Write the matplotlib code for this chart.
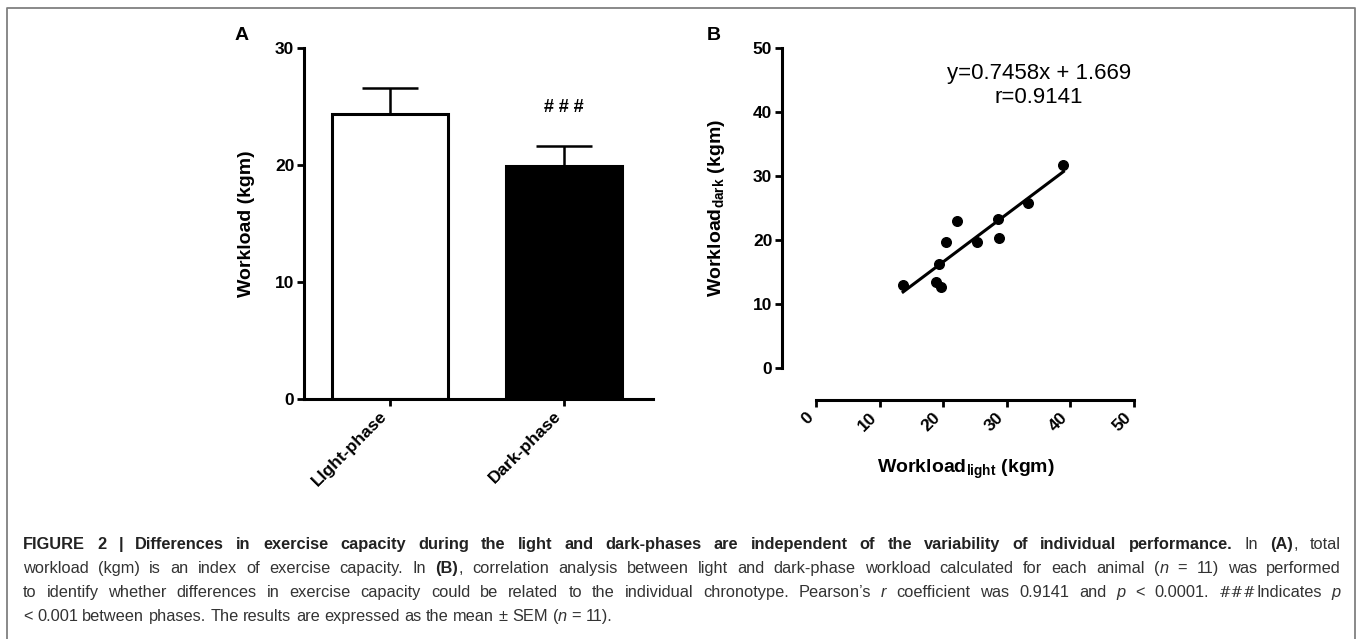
import numpy as np
import matplotlib
matplotlib.use('Agg')
import matplotlib.pyplot as plt
from matplotlib.lines import Line2D

plt.rcParams['font.family'] = ['Liberation Sans', 'DejaVu Sans']
plt.rcParams['mathtext.fontset'] = 'custom'
plt.rcParams['mathtext.rm'] = 'Liberation Sans'
plt.rcParams['mathtext.bf'] = 'Liberation Sans:bold'
plt.rcParams['mathtext.it'] = 'Liberation Sans:italic'

# Panel A: total workload per phase (mean + SEM)
phases = ['LIght-phase', 'Dark-phase']
workload_mean = [24.4, 19.9]
workload_sem = [2.2, 1.7]
bar_colors = ['white', 'black']

# Panel B: individual workloads (light vs dark)
workload_light = [13.7, 18.8, 19.6, 19.3, 20.5, 22.1, 25.3, 28.6, 28.8, 33.3, 38.9]
workload_dark = [13.0, 13.5, 12.7, 16.3, 19.7, 23.0, 19.7, 23.3, 20.3, 25.8, 31.7]
slope, intercept, r_value = 0.7458, 1.669, 0.9141
axis_ticks_b = [0, 10, 20, 30, 40, 50]

# Caption: (text, style) runs per line
caption_lines = [
    [("FIGURE 2 | Differences in exercise capacity during the light and dark-phases are "
      "independent of the variability of individual performance.", 'b'),
     (" In ", 'n'), ("(A)", 'b'), (", total", 'n')],
    [("workload (kgm) is an index of exercise capacity. In ", 'n'), ("(B)", 'b'),
     (", correlation analysis between light and dark-phase workload calculated for each animal (", 'n'),
     ("n", 'i'), (" = 11) was performed", 'n')],
    [("to identify whether differences in exercise capacity could be related to the individual "
      "chronotype. Pearson\u2019s ", 'n'), ("r", 'i'), (" coefficient was 0.9141 and ", 'n'),
     ("p", 'i'), (" < 0.0001. ", 'n'), ("###", 'h'), ("Indicates ", 'n'), ("p", 'i')],
    [("< 0.001 between phases. The results are expressed as the mean \u00b1 SEM (", 'n'),
     ("n", 'i'), (" = 11).", 'n')],
]

W, H = 1357, 639
fig = plt.figure(figsize=(W / 100, H / 100), dpi=100)


def px_box(l, t, r, b):
    return [l / W, 1 - b / H, (r - l) / W, (b - t) / H]


tick_font = dict(fontsize=12.5, fontweight='bold')
label_font = dict(fontsize=14, fontweight='bold')

# ---------------- Panel A ----------------
axA = fig.add_axes(px_box(304, 48, 653, 399))
x = np.arange(len(phases))
axA.bar(x, workload_mean, width=0.667, color=bar_colors, edgecolor='black',
        linewidth=2.2, zorder=2)
axA.errorbar(x, workload_mean, yerr=[np.zeros(len(x)), workload_sem], fmt='none',
             ecolor='black', elinewidth=1.8, capsize=20, capthick=1.8, zorder=3)
axA.text(x[1], workload_mean[1] + workload_sem[1] + 3.3, '# # #', ha='center',
         va='center', fontsize=13, fontweight='bold')
axA.set_xlim(-0.494, 1.51)
axA.set_ylim(0, 30)
axA.spines[['top', 'right']].set_visible(False)
axA.spines[['left', 'bottom']].set_linewidth(2.2)
axA.set_yticks([0, 10, 20, 30])
axA.set_yticklabels(['0', '10', '20', '30'], **tick_font)
axA.set_xticks(x)
axA.set_xticklabels(phases, rotation=45, ha='right', **tick_font)
axA.tick_params(width=2, length=5, pad=2)
axA.set_ylabel('Workload (kgm)', **label_font)
axA.yaxis.set_label_coords(-0.14, 0.5)

# ---------------- Panel B ----------------
axB = fig.add_axes(px_box(816, 48, 1134, 368))
axB.spines[['top', 'right']].set_visible(False)
axB.spines[['left', 'bottom']].set_linewidth(2.2)
axB.spines['left'].set_position(('outward', 24.5))
axB.spines['bottom'].set_position(('outward', 23))
axB.scatter(workload_light, workload_dark, s=48, color='black', zorder=3)
fit_x = np.array([min(workload_light), max(workload_light)])
axB.plot(fit_x, slope * fit_x + intercept, color='black', lw=2.2)
axB.text(0.70, 0.92, f'y={slope}x + {intercept}', transform=axB.transAxes,
         ha='center', va='center', fontsize=16)
axB.text(0.70, 0.845, f'r={r_value}', transform=axB.transAxes,
         ha='center', va='center', fontsize=16)
axB.set_xlim(0, 50)
axB.set_ylim(0, 50)
axB.set_xticks(axis_ticks_b)
axB.set_yticks(axis_ticks_b)
axB.set_xticklabels([str(t) for t in axis_ticks_b], rotation=45, ha='right', **tick_font)
axB.set_yticklabels([str(t) for t in axis_ticks_b], **tick_font)
axB.tick_params(width=2, length=5, pad=2)
axB.set_ylabel(r'Workload$_\mathbf{dark}$ (kgm)', **label_font)
axB.yaxis.set_label_coords(-0.28, 0.5)
axB.set_xlabel(r'Workload$_\mathbf{light}$ (kgm)', **label_font)
axB.xaxis.set_label_coords(0.47, -0.28)

# panel letters
fig.text(242 / W, 1 - 36 / H, 'A', ha='center', va='center', fontsize=14, fontweight='bold')
fig.text(714 / W, 1 - 35 / H, 'B', ha='center', va='center', fontsize=14, fontweight='bold')

# frame around the figure
fig.add_artist(Line2D([7 / W, 7 / W, 1355 / W, 1355 / W], [0, 1 - 8 / H, 1 - 8 / H, 0],
                      transform=fig.transFigure, color='#808080', lw=1.3))

# ---------------- Caption (justified) ----------------
cap_size = 11.8
styles = {
    'n': dict(fontsize=cap_size, color='#333333'),
    'b': dict(fontsize=cap_size, color='#222222', fontweight='bold'),
    'i': dict(fontsize=cap_size, color='#333333', fontstyle='italic'),
    'h': dict(fontsize=cap_size - 1, color='#333333', family='DejaVu Serif'),
}


def tokenize(segs):
    out = []
    pending = False
    for txt, sty in segs:
        parts = txt.split(' ')
        for i, p in enumerate(parts):
            if i > 0:
                pending = True
            if p == '':
                continue
            out.append((p, sty, pending and len(out) > 0))
            pending = False
    return out


fig.canvas.draw()
renderer = fig.canvas.get_renderer()
left_px, right_px = 23, 1341
baselines = [549, 573, 597, 621]
space_px = 4.5

for li, segs in enumerate(caption_lines):
    toks = tokenize(segs)
    items = []
    for word, sty, sp in toks:
        t = fig.text(0, 0, word, va='baseline', ha='left', **styles[sty])
        w = t.get_window_extent(renderer).width
        items.append((t, w, sp))
    n_sp = sum(1 for _, _, sp in items if sp)
    total = sum(w for _, w, _ in items)
    if li < len(caption_lines) - 1 and n_sp > 0:
        gap = (right_px - left_px - total) / n_sp
    else:
        gap = space_px
    cur = left_px
    for t, w, sp in items:
        if sp:
            cur += gap
        t.set_position((cur / W, 1 - baselines[li] / H))
        cur += w

fig.savefig('out.png', dpi=100)
